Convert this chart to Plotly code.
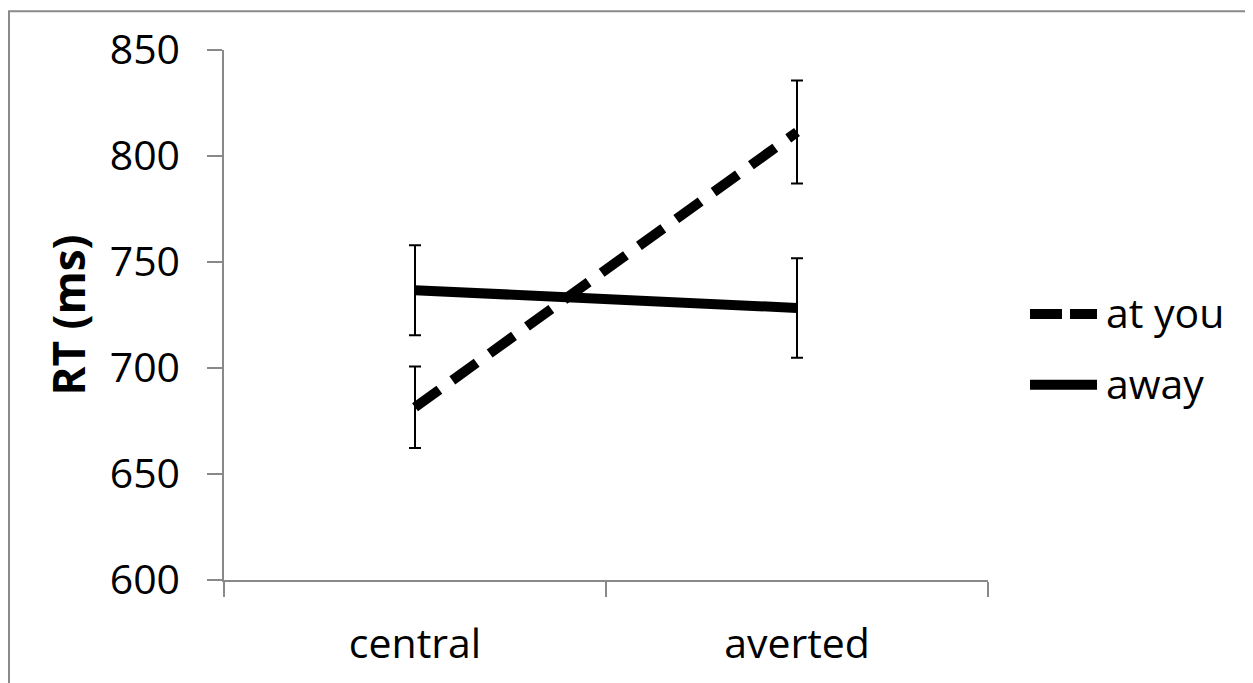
import plotly.graph_objects as go

categories = ["central", "averted"]
at_you = [681.5, 811.3]
at_you_err = [19.2, 24.3]
away = [736.7, 728.3]
away_err = [21.2, 23.5]
y_ticks = [600, 650, 700, 750, 800, 850]
series_names = ["at you", "away"]

# page body has an 8px margin, so the figure starts at (8, 8) on screen
OFF = 8
W, H = 1253 - OFF, 683 - OFF
L, T = 224 - OFF, 48 - OFF
pw, ph = 764, 532
R, B = W - L - pw, H - T - ph

fig = go.Figure()
fig.add_trace(go.Scatter(
    x=categories, y=at_you, name=series_names[0], mode="lines",
    line=dict(color="black", width=10, dash="30px,16px"),
    error_y=dict(type="data", array=at_you_err, color="black", thickness=2, width=6),
))
fig.add_trace(go.Scatter(
    x=categories, y=away, name=series_names[1], mode="lines",
    line=dict(color="black", width=10),
    error_y=dict(type="data", array=away_err, color="black", thickness=2, width=6),
))

def px_x(p):
    # screen x -> paper
    return (p - OFF - L) / pw

def px_y(p):
    # screen y -> paper
    return (T + ph - (p - OFF)) / ph

# outer frame
fig.add_shape(type="rect", xref="paper", yref="paper",
              x0=px_x(9), x1=px_x(1280), y0=px_y(720), y1=px_y(9),
              line=dict(color="#8a8a8a", width=2), fillcolor="rgba(0,0,0,0)", layer="below")

font_family = "Open Sans, sans-serif"
axis_font = dict(family=font_family, size=41, color="black")

# legend drawn by hand to match the long line samples
legend_rows = [313, 384]
fig.add_shape(type="line", xref="paper", yref="paper",
              x0=px_x(1030), x1=px_x(1097), y0=px_y(legend_rows[0]), y1=px_y(legend_rows[0]),
              line=dict(color="black", width=10, dash="32px,8px"))
fig.add_shape(type="line", xref="paper", yref="paper",
              x0=px_x(1030), x1=px_x(1097), y0=px_y(legend_rows[1]), y1=px_y(legend_rows[1]),
              line=dict(color="black", width=10))
for name, row in zip(series_names, legend_rows):
    fig.add_annotation(xref="paper", yref="paper", x=px_x(1104), y=px_y(row - 2),
                       text=name, showarrow=False, xanchor="left", yanchor="middle",
                       font=dict(family=font_family, size=41, color="black"))

fig.update_layout(
    width=W, height=H,
    margin=dict(l=L, r=R, t=T, b=B),
    paper_bgcolor="white", plot_bgcolor="white",
    showlegend=False,
    xaxis=dict(type="category", range=[-0.5, 1.5], tickson="boundaries",
               showline=True, linecolor="#898989", linewidth=1.5,
               ticks="outside", ticklen=15, tickcolor="#898989", tickwidth=1.5,
               showgrid=False, zeroline=False, tickfont=axis_font, ticklabelstandoff=27),
    yaxis=dict(range=[600, 850], tickvals=y_ticks,
               showline=True, linecolor="#898989", linewidth=1.5,
               ticks="outside", ticklen=15, tickcolor="#898989", tickwidth=1.5,
               showgrid=False, zeroline=False, tickfont=axis_font, ticklabelstandoff=19,
               title=dict(text="<b>RT (ms)</b>", font=dict(family=font_family, size=44, color="black"),
                          standoff=10)),
)

fig.write_html("out.html")
